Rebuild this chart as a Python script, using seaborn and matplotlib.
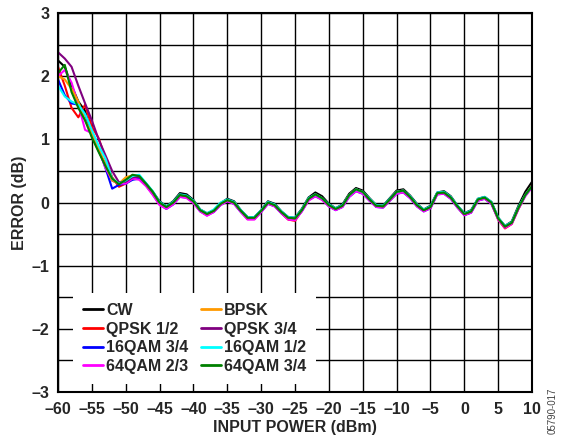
import numpy as np
import pandas as pd
import matplotlib
matplotlib.use("Agg")
import matplotlib.pyplot as plt
import seaborn as sns

# potencia de entrada (dBm), passo de 1 dB
input_power = list(range(-60, 11))

cw = [2.25, 2.15, 1.85, 1.60, 1.45, 1.05, 0.82, 0.60, 0.35, 0.30,
      0.35, 0.40, 0.40, 0.30, 0.17, 0.02, -0.06, 0.02, 0.15, 0.13,
      0.04, -0.11, -0.17, -0.12, -0.01, 0.06, 0.02, -0.12, -0.23, -0.23,
      -0.12, 0.02, -0.02, -0.14, -0.23, -0.24, -0.10, 0.08, 0.16, 0.10,
      -0.02, -0.09, -0.03, 0.14, 0.23, 0.19, 0.07, -0.04, -0.05, 0.07,
      0.19, 0.21, 0.11, -0.02, -0.11, -0.05, 0.16, 0.18, 0.10, -0.05,
      -0.17, -0.12, 0.06, 0.09, 0.01, -0.24, -0.37, -0.30, -0.05, 0.17, 0.33]
qpsk_12 = [2.15, 1.85, 1.50, 1.35, 1.55, 1.20, 1.02, 0.70, 0.40, 0.25,
           0.30, 0.38, 0.38, 0.28, 0.15, -0.01, -0.09, -0.01, 0.11, 0.09,
           0.01, -0.13, -0.20, -0.14, -0.03, 0.03, -0.01, -0.14, -0.26, -0.26,
           -0.14, -0.01, -0.05, -0.17, -0.27, -0.29, -0.13, 0.05, 0.12, 0.06,
           -0.05, -0.11, -0.06, 0.11, 0.20, 0.16, 0.04, -0.06, -0.07, 0.04,
           0.16, 0.18, 0.08, -0.05, -0.13, -0.08, 0.14, 0.15, 0.07, -0.07,
           -0.20, -0.15, 0.04, 0.07, -0.01, -0.27, -0.41, -0.34, -0.10, 0.11, 0.25]
qam16_34 = [1.95, 1.70, 1.57, 1.55, 1.40, 1.10, 0.85, 0.55, 0.22, 0.28,
            0.30, 0.36, 0.38, 0.27, 0.13, -0.03, -0.10, -0.03, 0.09, 0.08,
            0.00, -0.14, -0.20, -0.15, -0.04, 0.02, -0.02, -0.15, -0.26, -0.26,
            -0.15, -0.02, -0.06, -0.17, -0.26, -0.27, -0.14, 0.04, 0.10, 0.05,
            -0.06, -0.12, -0.07, 0.09, 0.18, 0.14, 0.03, -0.07, -0.08, 0.03,
            0.14, 0.16, 0.07, -0.06, -0.14, -0.09, 0.13, 0.14, 0.06, -0.08,
            -0.20, -0.16, 0.03, 0.06, -0.02, -0.26, -0.39, -0.33, -0.09, 0.11, 0.25]
qam64_23 = [2.00, 2.10, 1.90, 1.55, 1.15, 1.10, 0.85, 0.55, 0.35, 0.30,
            0.30, 0.38, 0.36, 0.26, 0.12, -0.04, -0.10, -0.03, 0.09, 0.07,
            -0.01, -0.14, -0.21, -0.15, -0.04, 0.02, -0.02, -0.15, -0.27, -0.27,
            -0.15, -0.02, -0.06, -0.17, -0.27, -0.28, -0.14, 0.03, 0.10, 0.04,
            -0.06, -0.12, -0.07, 0.09, 0.18, 0.14, 0.03, -0.07, -0.08, 0.03,
            0.14, 0.16, 0.07, -0.06, -0.14, -0.09, 0.13, 0.14, 0.06, -0.08,
            -0.20, -0.16, 0.03, 0.06, -0.02, -0.27, -0.40, -0.34, -0.10, 0.10, 0.24]
bpsk = [2.00, 1.95, 1.80, 1.60, 1.30, 1.10, 0.85, 0.60, 0.35, 0.30,
        0.40, 0.43, 0.42, 0.29, 0.16, 0.00, -0.07, 0.00, 0.12, 0.10,
        0.02, -0.12, -0.18, -0.13, -0.02, 0.04, 0.00, -0.13, -0.24, -0.24,
        -0.13, 0.00, -0.04, -0.15, -0.24, -0.25, -0.12, 0.06, 0.13, 0.07,
        -0.04, -0.10, -0.05, 0.12, 0.21, 0.17, 0.05, -0.05, -0.06, 0.05,
        0.17, 0.19, 0.09, -0.04, -0.12, -0.07, 0.15, 0.16, 0.08, -0.06,
        -0.18, -0.14, 0.05, 0.08, 0.00, -0.25, -0.38, -0.32, -0.08, 0.12, 0.27]
qpsk_34 = [2.38, 2.28, 2.15, 1.85, 1.57, 1.30, 1.00, 0.75, 0.50, 0.32,
           0.33, 0.40, 0.41, 0.29, 0.16, 0.00, -0.07, 0.00, 0.12, 0.10,
           0.02, -0.12, -0.18, -0.13, -0.02, 0.04, 0.00, -0.13, -0.24, -0.24,
           -0.13, 0.00, -0.04, -0.15, -0.24, -0.25, -0.12, 0.06, 0.13, 0.07,
           -0.04, -0.10, -0.05, 0.12, 0.21, 0.17, 0.05, -0.05, -0.06, 0.05,
           0.17, 0.19, 0.09, -0.04, -0.12, -0.07, 0.15, 0.16, 0.08, -0.06,
           -0.18, -0.14, 0.05, 0.08, 0.00, -0.25, -0.38, -0.32, -0.08, 0.12, 0.26]
qam16_12 = [1.85, 1.68, 1.60, 1.55, 1.40, 1.15, 0.90, 0.70, 0.38, 0.30,
            0.35, 0.42, 0.44, 0.31, 0.18, 0.01, -0.06, 0.01, 0.13, 0.11,
            0.03, -0.11, -0.17, -0.11, 0.00, 0.05, 0.01, -0.12, -0.23, -0.23,
            -0.12, 0.01, -0.03, -0.14, -0.23, -0.24, -0.11, 0.07, 0.13, 0.07,
            -0.03, -0.09, -0.04, 0.12, 0.21, 0.17, 0.06, -0.04, -0.05, 0.06,
            0.17, 0.19, 0.10, -0.03, -0.11, -0.06, 0.16, 0.17, 0.09, -0.05,
            -0.17, -0.13, 0.06, 0.09, 0.01, -0.24, -0.37, -0.31, -0.07, 0.12, 0.26]
qam64_34 = [2.05, 2.18, 1.75, 1.50, 1.30, 1.03, 0.80, 0.58, 0.38, 0.29,
            0.36, 0.44, 0.42, 0.30, 0.17, 0.00, -0.07, 0.00, 0.12, 0.10,
            0.02, -0.12, -0.18, -0.13, -0.02, 0.04, 0.00, -0.13, -0.24, -0.24,
            -0.13, 0.00, -0.04, -0.15, -0.24, -0.25, -0.12, 0.06, 0.13, 0.07,
            -0.04, -0.10, -0.05, 0.12, 0.21, 0.17, 0.05, -0.05, -0.06, 0.05,
            0.17, 0.19, 0.09, -0.04, -0.12, -0.07, 0.15, 0.16, 0.08, -0.06,
            -0.18, -0.14, 0.05, 0.08, 0.00, -0.25, -0.38, -0.32, -0.08, 0.12, 0.26]

series_names = ["CW", "QPSK 1/2", "16QAM 3/4", "64QAM 2/3",
                "BPSK", "QPSK 3/4", "16QAM 1/2", "64QAM 3/4"]
series_values = [cw, qpsk_12, qam16_34, qam64_23, bpsk, qpsk_34, qam16_12, qam64_34]
cores = ["#000000", "#FF0000", "#0000FF", "#FF00FF",
         "#FF9900", "#800080", "#00FFFF", "#008000"]

# dataframe formato longo para o seaborn
df = pd.concat([pd.DataFrame({"power": input_power, "error": v, "signal": n})
                for n, v in zip(series_names, series_values)], ignore_index=True)

sns.set_theme(style="white")
plt.rcParams["font.family"] = ["Liberation Sans", "DejaVu Sans"]
plt.rcParams["font.weight"] = "bold"

fs = 11.5
fig = plt.figure(figsize=(5.61, 4.37), dpi=100)
ax = fig.add_axes([0.1034, 0.103, 0.845, 0.867])

sns.lineplot(data=df, x="power", y="error", hue="signal", hue_order=series_names,
             palette=cores, linewidth=1.5, ax=ax)

ax.set_xlim(-60, 10)
ax.set_ylim(-3, 3)
ax.set_xticks(range(-60, 11, 5))
ax.set_yticks(np.arange(-3, 3.01, 0.5))
ax.set_yticklabels([str(int(t)).replace("-", "\u2013") if t == int(t) else ""
                    for t in np.arange(-3, 3.01, 0.5)])
ax.set_xticklabels([str(t).replace("-", "\u2013") for t in range(-60, 11, 5)])
ax.grid(True, color="black", linewidth=1.0)
ax.set_axisbelow(True)
for s in ax.spines.values():
    s.set_color("black")
    s.set_linewidth(1.5)
ax.tick_params(axis="x", length=0, labelsize=fs, pad=7)
ax.tick_params(axis="y", length=0, labelsize=fs, pad=6)
for lab in ax.get_xticklabels() + ax.get_yticklabels():
    lab.set_fontweight("bold")
ax.set_xlabel("INPUT POWER (dBm)", fontsize=fs, fontweight="bold")
ax.set_ylabel("ERROR (dB)", fontsize=fs, fontweight="bold")
ax.xaxis.set_label_coords(0.5, -0.074)
ax.yaxis.set_label_coords(-0.066, 0.5)

handles, labels = ax.get_legend_handles_labels()
leg = ax.legend(handles, labels, ncol=2, loc="lower left",
                bbox_to_anchor=(0.032, 0.022),
                frameon=True, fancybox=False, framealpha=1, edgecolor="none",
                facecolor="white", prop={"size": fs, "weight": "bold"},
                handlelength=1.25, handletextpad=0.2, labelspacing=0.23,
                columnspacing=0.8, borderpad=0.6, borderaxespad=0)
for h in leg.get_lines():
    h.set_linewidth(2.0)

fig.text(0.985, 0.06, "05790-017", rotation=90, fontsize=7, color="#444444",
         ha="center", va="center", fontweight="normal")

fig.savefig("out.png", dpi=100)
